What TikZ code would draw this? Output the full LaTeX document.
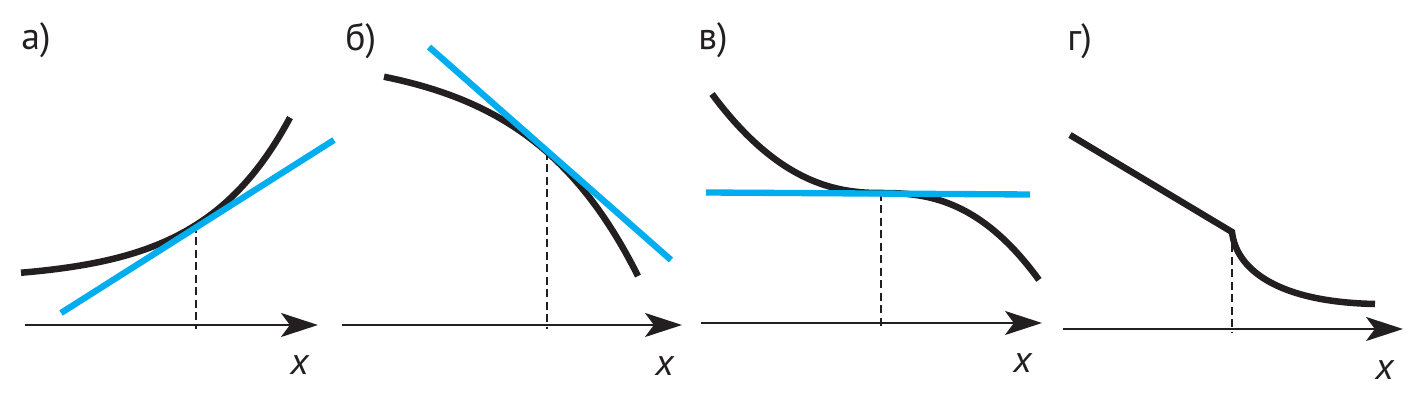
\documentclass[tikz,border=0pt]{standalone}
\usepackage{fontspec}
\setmainfont{PT Sans}
\usetikzlibrary{positioning,arrows.meta}
\definecolor{inkblack}{HTML}{231F20}
\definecolor{tanblue}{HTML}{00AEEF}

\begin{document}
\begin{tikzpicture}[x=0.02cm,y=-0.02cm,panelname/.style={inner sep=0pt,anchor=base west,font=\fontsize{21.5}{24}\selectfont,text=inkblack},xname/.style={inner sep=0pt,anchor=base west,font=\fontsize{21.5}{24}\selectfont\itshape,text=inkblack},graphline/.style={draw=inkblack,line width=3.7pt},tanline/.style={draw=tanblue,line width=3.6pt},xaxis/.style={draw=inkblack,line width=1.7pt,-{Stealth[length=21pt,width=13.6pt,inset=5pt]}},dropline/.style={draw=inkblack,line width=1.2pt,dash pattern=on 4.5pt off 2.6pt}]
  \useasboundingbox (0,0) rectangle (1428,411);

  % panel a
  \node[panelname] (nameA) at (21,50) {а)};
  \coordinate (aLeft) at (25,325);
  \coordinate (aTip) at (318,325);
  \coordinate (aTan) at (196,225);
  \coordinate (aFoot) at (196,329);
  \coordinate (aBlueL) at (61,313);
  \coordinate (aBlueR) at (334,140);
  \draw[dropline] (aTan) -- (aFoot);
  \draw[xaxis] (aLeft) -- (aTip);
  \draw[graphline] plot[domain=21:290,samples=60] (\x,{280.1-55.1*exp(0.0115*(\x-196))});
  \draw[tanline] (aBlueL) -- (aBlueR);
  \node[xname] (xA) at (290,375) {x};

  % panel b
  \node[panelname] (nameB) at (345,51) {б)};
  \coordinate (bLeft) at (342,325);
  \coordinate (bTip) at (682,325);
  \coordinate (bTan) at (547,152);
  \coordinate (bFoot) at (547,329);
  \coordinate (bBlueL) at (429,47);
  \coordinate (bBlueR) at (671,260);
  \draw[dropline] (bTan) -- (bFoot);
  \draw[xaxis] (bLeft) -- (bTip);
  \draw[graphline] plot[domain=384:638,samples=60] (\x,{54.2+97.8*exp(0.009*(\x-547))});
  \draw[tanline] (bBlueL) -- (bBlueR);
  \node[xname] (xB) at (655,376) {x};

  % panel v
  \node[panelname] (nameV) at (698,50) {в)};
  \coordinate (vLeft) at (701,323);
  \coordinate (vTip) at (1042,323);
  \coordinate (vTan) at (881,193);
  \coordinate (vFoot) at (881,327);
  \coordinate (vBlueL) at (706,192.5);
  \coordinate (vBlueR) at (1030,194.5);
  \draw[dropline] (vTan) -- (vFoot);
  \draw[xaxis] (vLeft) -- (vTip);
  \draw[graphline] plot[domain=1:0.01,samples=40,variable=\t] ({881-169*\t},{193-99*pow(\t,2.3)}) -- (vTan)
    -- plot[domain=0.01:1,samples=40,variable=\t] ({881+158*\t},{193+87*pow(\t,2.5)});
  \draw[tanline] (vBlueL) -- (vBlueR);
  \node[xname] (xV) at (1013,373) {x};

  % panel g
  \node[panelname] (nameG) at (1067,51) {г)};
  \coordinate (gLeft) at (1063,329);
  \coordinate (gTip) at (1403,329);
  \coordinate (gStart) at (1070,135);
  \coordinate (gKink) at (1232,232);
  \coordinate (gEnd) at (1375,304);
  \coordinate (gFoot) at (1232,333);
  \draw[dropline] (gKink) -- (gFoot);
  \draw[xaxis] (gLeft) -- (gTip);
  \draw[graphline] (gStart) -- (gKink) .. controls (1236,268) and (1275,302) .. (gEnd);
  \node[xname] (xG) at (1375,380) {x};
\end{tikzpicture}
\end{document}
